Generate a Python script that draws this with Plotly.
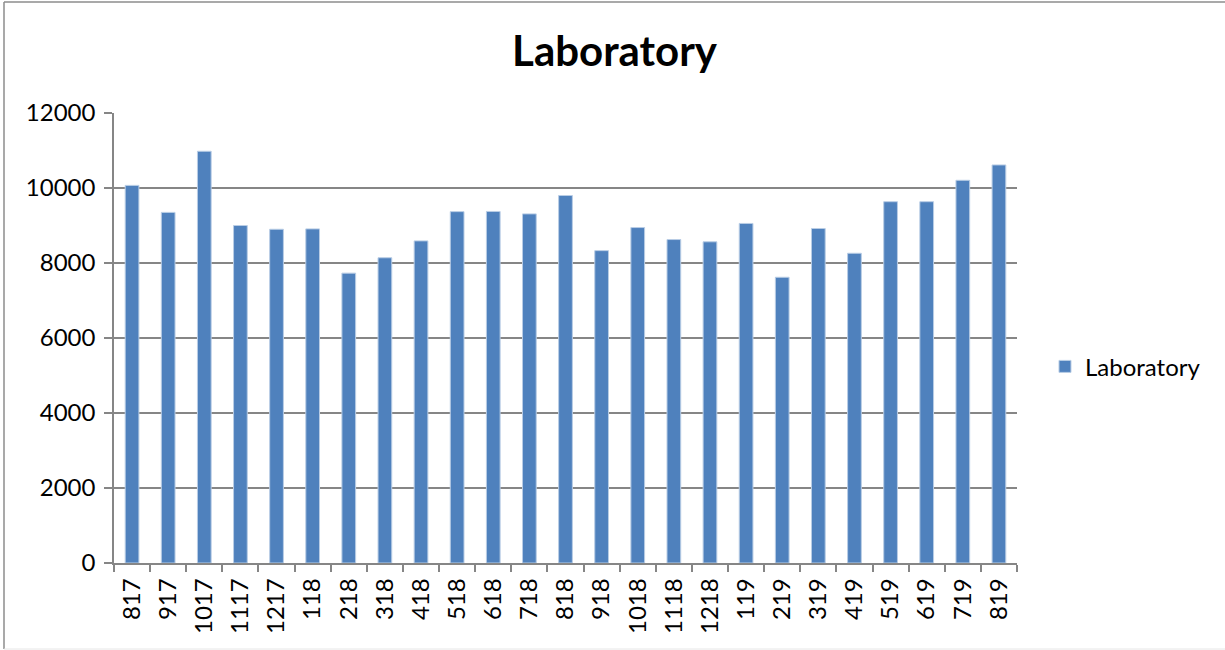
import plotly.graph_objects as go

categories = ["817", "917", "1017", "1117", "1217", "118", "218", "318", "418", "518",
              "618", "718", "818", "918", "1018", "1118", "1218", "119", "219", "319",
              "419", "519", "619", "719", "819"]
values = [10070, 9350, 10980, 9000, 8900, 8910, 7730, 8140, 8590, 9370,
          9375, 9310, 9800, 8330, 8945, 8625, 8565, 9055, 7620, 8920,
          8260, 9635, 9635, 10205, 10615]
y_ticks = [0, 2000, 4000, 6000, 8000, 10000, 12000]
series_name = "Laboratory"
title_text = "Laboratory"

FONT = "Lato"
BAR = "#4F81BD"
GRID = "#868686"

fig = go.Figure()
fig.add_trace(go.Bar(
    x=categories, y=values, name=series_name,
    marker=dict(color=BAR, line=dict(color="#B9CDE5", width=1)),
    showlegend=True,
))

fig.update_layout(
    width=1225, height=650,
    paper_bgcolor="white", plot_bgcolor="white",
    margin=dict(l=114, r=208, t=113, b=87, autoexpand=False),
    bargap=0.62,
    title=dict(text="<b>" + title_text + "</b>", x=0.5017, xanchor="center",
               y=0.921, yanchor="middle",
               font=dict(family=FONT, size=42, color="black")),
    font=dict(family=FONT, size=24, color="black"),
    showlegend=True,
    legend=dict(x=1.031, xanchor="left", y=0.436, yanchor="middle",
                font=dict(family=FONT, size=24, color="black"),
                bgcolor="rgba(0,0,0,0)", itemwidth=30),
    xaxis=dict(
        type="category", tickangle=-90, tickson="boundaries",
        ticks="outside", ticklen=7, tickcolor=GRID, tickwidth=1.5,
        showline=True, linecolor=GRID, linewidth=1.5,
        showgrid=False, tickfont=dict(family=FONT, size=24, color="black"),
        ticklabelstandoff=4,
    ),
    yaxis=dict(
        range=[0, 12000], tickvals=y_ticks, ticktext=[str(t) for t in y_ticks],
        ticks="outside", ticklen=8, tickcolor=GRID, tickwidth=1.5,
        showline=True, linecolor=GRID, linewidth=1.5,
        showgrid=True, gridcolor=GRID, gridwidth=1.5,
        zeroline=False,
        tickfont=dict(family=FONT, size=24, color="black"),
        ticklabelstandoff=4,
    ),
    shapes=[
        dict(type="line", xref="paper", yref="paper",
             x0=(4 - 114) / 903, x1=(1225 - 114) / 903,
             y0=(563 - 2) / 450, y1=(563 - 2) / 450,
             line=dict(color="#8C8C8C", width=1.5)),
        dict(type="line", xref="paper", yref="paper",
             x0=(4 - 114) / 903, x1=(4 - 114) / 903,
             y0=(563 - 2) / 450, y1=(563 - 649) / 450,
             line=dict(color="#8C8C8C", width=1.5)),
        dict(type="line", xref="paper", yref="paper",
             x0=(4 - 114) / 903, x1=(1225 - 114) / 903,
             y0=(563 - 649) / 450, y1=(563 - 649) / 450,
             line=dict(color="#E6E6E6", width=1)),
    ],
)

fig.write_html(
    "out.html",
    config={"displayModeBar": False},
    post_script="document.body.style.margin='0';document.body.style.overflow='hidden';",
)
